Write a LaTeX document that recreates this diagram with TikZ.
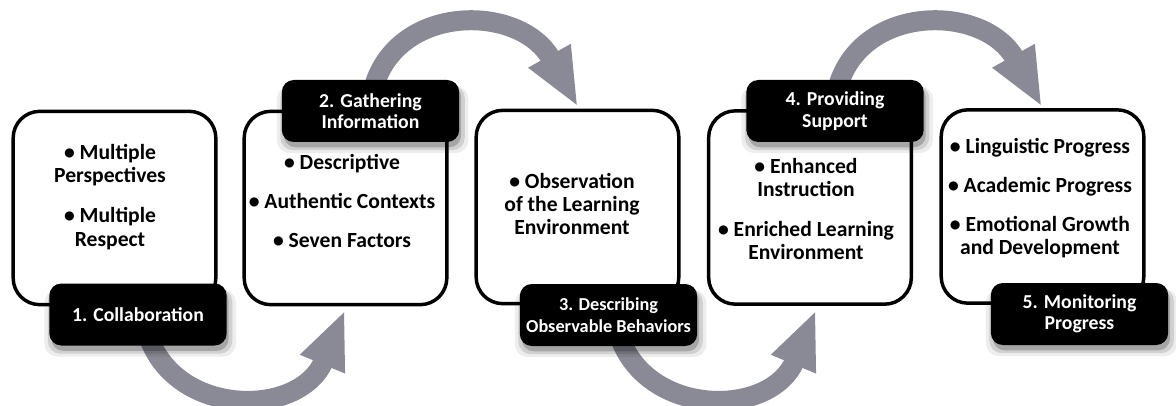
\documentclass[tikz,border=0pt]{standalone}
\usepackage{fontspec}
\setmainfont{Carlito}
\usetikzlibrary{arrows.meta,shadows}
\definecolor{arrowgray}{RGB}{138,138,150}
\tikzset{
  infobox/.style={draw=black, line width=2.6pt, rounded corners=20pt, fill=white,
    minimum width=152pt, minimum height=145pt, inner sep=0pt},
  softshadow/.style={
    drop shadow={shadow xshift=1.5pt, shadow yshift=-4pt, opacity=0.20, fill=black},
    drop shadow={shadow xshift=1.5pt, shadow yshift=-5pt, opacity=0.12, fill=black, shadow scale=1.04},
    drop shadow={shadow xshift=1.5pt, shadow yshift=-6pt, opacity=0.07, fill=black, shadow scale=1.08}},
  steplabel/.style={fill=black, rounded corners=9pt, text=white,
    font=\bfseries\fontsize{14.8}{16}\selectfont, align=center, inner sep=0pt,
    minimum width=133pt, minimum height=46.5pt, softshadow},
  itemtext/.style={font=\bfseries\fontsize{16.2}{17.4}\selectfont, align=center, inner sep=0pt},
  flow/.style={draw=arrowgray, line width=15pt, -{Triangle[length=44pt,width=33pt]}}
}
\begin{document}
\begin{tikzpicture}[x=0.75pt,y=-0.75pt]
\useasboundingbox (0,0) rectangle (1176,406);

% connector end points
\coordinate (a1s) at (148,335);  \coordinate (a1e) at (345,310);
\coordinate (a2s) at (373,90);   \coordinate (a2e) at (578,107);
\coordinate (a3s) at (619,335);  \coordinate (a3e) at (816,310);
\coordinate (a4s) at (837,90);   \coordinate (a4e) at (1042,107);

% curved arrows
\draw[flow] (a1s) .. controls (175,418) and (300,418) .. (a1e);
\draw[flow] (a2s) .. controls (395,3) and (520,3) .. (a2e);
\draw[flow] (a3s) .. controls (646,418) and (771,418) .. (a3e);
\draw[flow] (a4s) .. controls (859,3) and (984,3) .. (a4e);

% white boxes
\node[infobox] (b1) at (114.5,208) {};
\node[infobox] (b2) at (345.5,208) {};
\node[infobox] (b3) at (577.5,207) {};
\node[infobox] (b4) at (810,207.5) {};
\node[infobox] (b5) at (1042.5,206.5) {};

% box contents
\node[itemtext] (t1) at (110,197) {• Multiple\\Perspectives\\[12.5pt]• Multiple\\Respect};
\node[itemtext] (t2) at (342,201) {• Descriptive\\[11.5pt]• Authentic Contexts\\[11.5pt]• Seven Factors};
\node[itemtext] (t3) at (572,204) {• Observation\\of the Learning\\Environment};
\node[itemtext] (t4) at (806,209) {• Enhanced\\Instruction\\[12.5pt]• Enriched Learning\\Environment};
\node[itemtext] (t5) at (1040,198) {• Linguistic Progress\\[12pt]• Academic Progress\\[12pt]• Emotional Growth\\and Development};

% step labels
\node[steplabel] (l1) at (138,314.5) {1. Collaboration};
\node[steplabel] (l2) at (370.5,111) {2. Gathering\\Information};
\node[steplabel, font=\bfseries\fontsize{13.7}{16}\selectfont] (l3) at (608.5,315) {3. Describing\\Observable Behaviors};
\node[steplabel] (l4) at (835,111) {4. Providing\\Support};
\node[steplabel] (l5) at (1079.5,314) {5. Monitoring\\Progress};
\end{tikzpicture}
\end{document}
